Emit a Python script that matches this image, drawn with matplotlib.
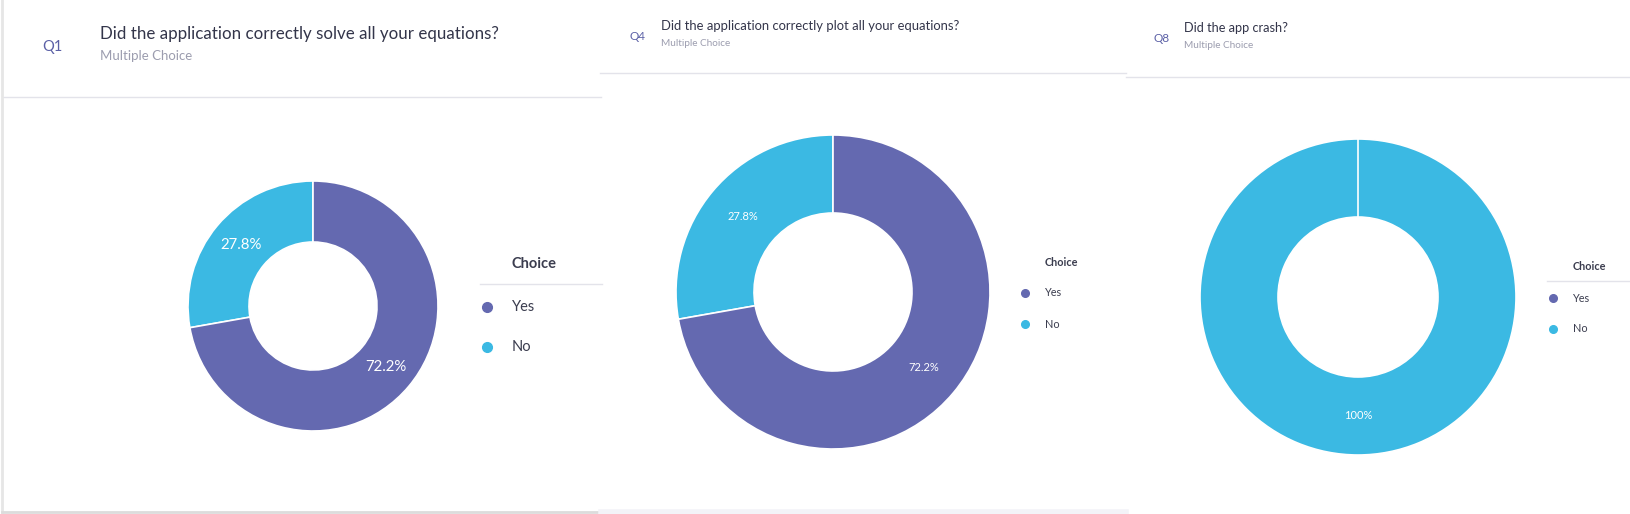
import matplotlib.pyplot as plt
from matplotlib.lines import Line2D

plt.rcParams['font.family'] = ['Lato', 'DejaVu Sans']

# Datos de las tres preguntas (respuestas contadas)
preguntas = ["Q1", "Q4", "Q8"]
titulos = ["Did the application correctly solve all your equations?",
           "Did the application correctly plot all your equations?",
           "Did the app crash?"]
subtitulo = "Multiple Choice"
opciones = ["Yes", "No"]
votos_yes = [13, 13, 0]
votos_no = [5, 5, 18]
colores = ["#6469B0", "#3BB9E3"]

W, H = 1630, 514


def fx(x):
    return x / W


def fy(y):
    return 1 - y / H


def linea(x0, x1, y0, y1, color="#e3e3ea", lw=1.0):
    fig.add_artist(Line2D([fx(x0), fx(x1)], [fy(y0), fy(y1)],
                          transform=fig.transFigure, color=color, lw=lw))


def etiqueta(p):
    if p < 0.05:
        return ""
    s = "{:.1f}".format(p)
    if s.endswith(".0"):
        s = s[:-2]
    return s + "%"


fig = plt.figure(figsize=(W / 100, H / 100), dpi=100)
fig.patch.set_facecolor("white")

# Parametros de cada panel: centro y radios de la dona, encabezado, leyenda
paneles = [
    dict(cx=313, cy=306, R=125, r=64, qx=42, qy=47, tx=100, ty=34, sy=56,
         tsize=12.2, qsize=10.5, ssize=9.5, psize=10.8,
         lx=487, ltx=512, lty=264, ly=[307, 347], lsize=10.5, lline=284,
         lline_x=(480, 602), header=(3, 601, 97)),
    dict(cx=833, cy=292, R=157, r=79, qx=630, qy=37, tx=661, ty=26, sy=43,
         tsize=9.4, qsize=8.5, ssize=7.2, psize=8.0,
         lx=1025, ltx=1045, lty=262, ly=[293, 324], lsize=7.8, lline=None,
         lline_x=None, header=(600, 1126, 73)),
    dict(cx=1358, cy=297, R=158, r=80, qx=1153, qy=38, tx=1184, ty=28, sy=45,
         tsize=9.2, qsize=8.5, ssize=7.2, psize=8.0,
         lx=1553, ltx=1573, lty=266, ly=[298, 329], lsize=7.8, lline=281,
         lline_x=(1547, 1630), header=(1126, 1630, 77)),
]

for i, p in enumerate(paneles):
    R = p["R"]
    ax = fig.add_axes([fx(p["cx"] - R), fy(p["cy"] + R), 2 * R / W, 2 * R / H])
    valores = [votos_yes[i], votos_no[i]]
    wedges, textos, autotextos = ax.pie(
        valores, colors=colores, startangle=90, counterclock=False,
        radius=1.0, autopct=etiqueta, pctdistance=(R + p["r"]) / 2 / R,
        wedgeprops=dict(width=(R - p["r"]) / R, edgecolor="white", linewidth=1.2),
        textprops=dict(color="white", fontsize=p["psize"]))
    # el corte blanco de arriba debe verse aunque un valor sea cero
    wedges[0].set_zorder(3)
    for t in autotextos:
        t.set_zorder(4)
    ax.set_xlim(-1, 1)
    ax.set_ylim(-1, 1)
    ax.set_aspect("equal")
    ax.axis("off")

    # Encabezado
    fig.text(fx(p["qx"]), fy(p["qy"]), preguntas[i], color="#5B60A6",
             fontsize=p["qsize"], va="center", ha="left")
    fig.text(fx(p["tx"]), fy(p["ty"]), titulos[i], color="#33354a",
             fontsize=p["tsize"], va="center", ha="left")
    fig.text(fx(p["tx"]), fy(p["sy"]), subtitulo, color="#9c9daf",
             fontsize=p["ssize"], va="center", ha="left")
    x0, x1, yh = p["header"]
    linea(x0, x1, yh, yh)

    # Leyenda
    fig.text(fx(p["ltx"]), fy(p["lty"]), "Choice", color="#3b3d4f",
             fontsize=p["lsize"], fontweight="bold", va="center", ha="left")
    if p["lline"] is not None:
        linea(p["lline_x"][0], p["lline_x"][1], p["lline"], p["lline"])
    for j, op in enumerate(opciones):
        fig.add_artist(Line2D([fx(p["lx"])], [fy(p["ly"][j])], marker="o",
                              markersize=7 if i == 0 else 5.5, color=colores[j],
                              transform=fig.transFigure, lw=0))
        fig.text(fx(p["ltx"]), fy(p["ly"][j]), op, color="#3b3d4f",
                 fontsize=p["lsize"], va="center", ha="left")

# Bordes de las tarjetas
linea(2, 2, 0, 512, color="#e6e6e6", lw=2)
linea(2, 601, 512, 512, color="#dcdcdc", lw=2)
linea(601, 1126, 512, 512, color="#f3f3f8", lw=4)

fig.savefig("out.png", dpi=100, facecolor="white")
